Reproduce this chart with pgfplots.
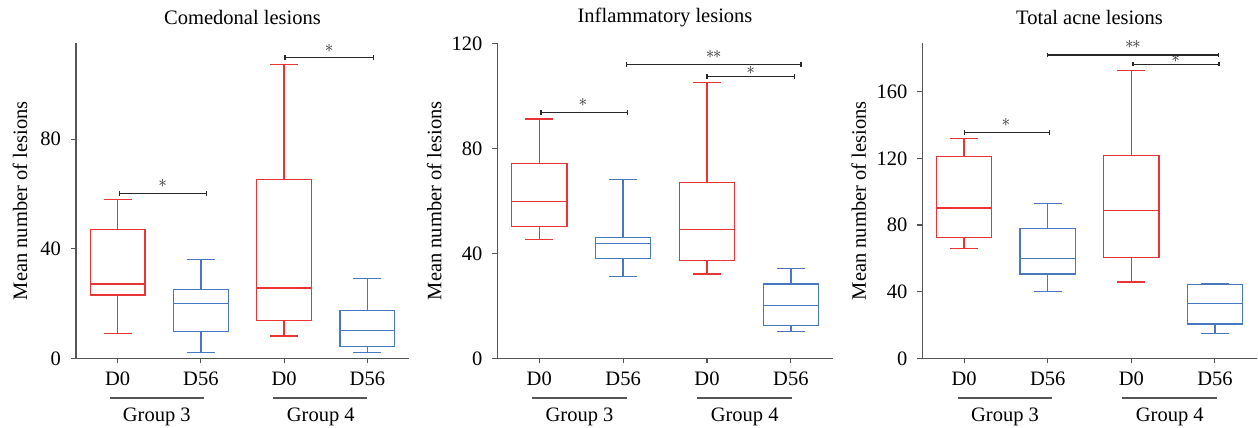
\documentclass[border=0pt]{standalone}
\usepackage{fontspec}
\setmainfont{Liberation Serif}
\usepackage{pgfplots}
\pgfplotsset{compat=1.18}
\usepgfplotslibrary{statistics}
\definecolor{bred}{RGB}{232,52,52}
\definecolor{bblue}{RGB}{72,120,195}
\definecolor{axgray}{RGB}{85,85,85}
\definecolor{sigc}{RGB}{40,40,40}
\tikzset{
  sigstar/.style={font=\fontsize{18}{18}\selectfont, text=sigc, inner sep=0pt},
  grp/.style={axgray, line width=1.7pt},
}
\pgfplotsset{
  panel/.style={
    scale only axis, height=315pt,
    axis x line*=bottom, axis y line*=left,
    axis line style={axgray, line width=1.3pt},
    xmin=0.5, xmax=4.5, ymin=0,
    xtick={1,2,3,4}, xticklabels={D0,D56,D0,D56},
    tick align=outside, major tick length=5pt,
    tick style={axgray, line width=1.1pt},
    /pgf/number format/assume math mode=true,
    font=\fontsize{20.5}{24}\selectfont,
    clip=false,
    boxplot/draw direction=y,
    title style={at={(axis description cs:0.5,1)}, anchor=center, yshift=20pt},
    xticklabel style={yshift=-2pt},
    yticklabel style={xshift=-3pt},
  },
  rbox/.style={draw=bred, line width=1.3pt, solid},
  bbox/.style={draw=bblue, line width=1.3pt, solid},
  sig/.style={sigc, line width=1.2pt, mark=|, mark size=2.2pt, mark options={solid, line width=1.2pt}},
}
\begin{document}
\fontsize{20.5}{24}\selectfont
\begin{tikzpicture}
\useasboundingbox (0pt,0pt) rectangle (1258pt,428pt);
% ---------------- Panel 1
\begin{axis}[panel, at={(76pt,69.7pt)}, anchor=south west, width=333pt,
  ymax=115, ytick={0,40,80}, title={Comedonal lesions},
  ylabel={Mean number of lesions},
  ylabel style={at={(axis description cs:-0.168,0.5)}, anchor=center}]
\addplot[rbox, boxplot prepared={draw position=1, lower whisker=9.1, lower quartile=23.1, median=27.1, upper quartile=47.05, upper whisker=58.1, box extend=0.66, whisker extend=0.335}] coordinates {};
\addplot[bbox, boxplot prepared={draw position=2, lower whisker=2.1, lower quartile=9.85, median=20.1, upper quartile=25.0, upper whisker=36.1, box extend=0.66, whisker extend=0.335}] coordinates {};
\addplot[rbox, boxplot prepared={draw position=3, lower whisker=8.1, lower quartile=13.7, median=25.65, upper quartile=65.3, upper whisker=107.2, box extend=0.66, whisker extend=0.335}] coordinates {};
\addplot[bbox, boxplot prepared={draw position=4, lower whisker=2.1, lower quartile=4.3, median=10.1, upper quartile=17.5, upper whisker=29.2, box extend=0.66, whisker extend=0.335}] coordinates {};
\addplot[sig] coordinates {(1.02,60.2) (2.07,60.2)};
\addplot[sig] coordinates {(3.01,109.8) (4.07,109.8)};
\node[sigstar] at (axis cs:1.54,63.8) {$\ast$};
\node[sigstar] at (axis cs:3.54,113.2) {$\ast$};
\draw[grp] ([yshift=-39.4pt]axis cs:0.91,0) -- ([yshift=-39.4pt]axis cs:2.04,0);
\draw[grp] ([yshift=-39.4pt]axis cs:2.87,0) -- ([yshift=-39.4pt]axis cs:4.0,0);
\node at ([yshift=-58.5pt]axis cs:1.47,0) {Group 3};
\node at ([yshift=-58.5pt]axis cs:3.44,0) {Group 4};
\end{axis}
% ---------------- Panel 2
\begin{axis}[panel, at={(497.3pt,69.7pt)}, anchor=south west, width=335.5pt,
  ymax=120, ytick={0,40,80,120}, title={Inflammatory lesions},
  ylabel={Mean number of lesions},
  ylabel style={at={(axis description cs:-0.188,0.5)}, anchor=center}]
\addplot[rbox, boxplot prepared={draw position=1, lower whisker=45.2, lower quartile=50.2, median=59.7, upper quartile=74.2, upper whisker=91.2, box extend=0.66, whisker extend=0.335}] coordinates {};
\addplot[bbox, boxplot prepared={draw position=2, lower whisker=31.1, lower quartile=38.1, median=43.7, upper quartile=46.1, upper whisker=68.1, box extend=0.66, whisker extend=0.335}] coordinates {};
\addplot[rbox, boxplot prepared={draw position=3, lower whisker=32.1, lower quartile=37.3, median=49.0, upper quartile=66.9, upper whisker=105.1, box extend=0.66, whisker extend=0.335}] coordinates {};
\addplot[bbox, boxplot prepared={draw position=4, lower whisker=10.2, lower quartile=12.4, median=20.1, upper quartile=28.3, upper whisker=34.2, box extend=0.66, whisker extend=0.335}] coordinates {};
\addplot[sig] coordinates {(1.02,93.7) (2.05,93.7)};
\addplot[sig] coordinates {(2.04,111.9) (4.12,111.9)};
\addplot[sig] coordinates {(3.0,107.4) (4.04,107.4)};
\node[sigstar] at (axis cs:1.52,97.5) {$\ast$};
\node[sigstar] at (axis cs:3.08,115.9) {$\ast\kern-1.5pt\ast$};
\node[sigstar] at (axis cs:3.52,109.8) {$\ast$};
\draw[grp] ([yshift=-39.4pt]axis cs:0.91,0) -- ([yshift=-39.4pt]axis cs:2.05,0);
\draw[grp] ([yshift=-39.4pt]axis cs:2.88,0) -- ([yshift=-39.4pt]axis cs:4.01,0);
\node at ([yshift=-58.5pt]axis cs:1.48,0) {Group 3};
\node at ([yshift=-58.5pt]axis cs:3.45,0) {Group 4};
\end{axis}
% ---------------- Panel 3
\begin{axis}[panel, at={(922.3pt,69.7pt)}, anchor=south west, width=334.4pt,
  ymax=189, ytick={0,40,80,120,160}, title={Total acne lesions},
  ylabel={Mean number of lesions},
  ylabel style={at={(axis description cs:-0.19,0.5)}, anchor=center}]
\addplot[rbox, boxplot prepared={draw position=1, lower whisker=65.9, lower quartile=72.5, median=90.2, upper quartile=121.2, upper whisker=131.7, box extend=0.66, whisker extend=0.335}] coordinates {};
\addplot[bbox, boxplot prepared={draw position=2, lower whisker=39.9, lower quartile=50.5, median=59.9, upper quartile=78.0, upper whisker=92.8, box extend=0.66, whisker extend=0.335}] coordinates {};
\addplot[rbox, boxplot prepared={draw position=3, lower whisker=45.7, lower quartile=60.3, median=88.8, upper quartile=121.8, upper whisker=172.7, box extend=0.66, whisker extend=0.335}] coordinates {};
\addplot[bbox, boxplot prepared={draw position=4, lower whisker=14.8, lower quartile=20.6, median=32.9, upper quartile=44.1, upper whisker=44.7, box extend=0.66, whisker extend=0.335}] coordinates {};
\addplot[sig] coordinates {(1.0,135.5) (2.02,135.5)};
\addplot[sig] coordinates {(2.0,182) (4.04,182)};
\addplot[sig] coordinates {(3.02,176.4) (4.05,176.4)};
\node[sigstar] at (axis cs:1.5,141.7) {$\ast$};
\node[sigstar] at (axis cs:3.02,188.4) {$\ast\kern-1.5pt\ast$};
\node[sigstar] at (axis cs:3.53,179.6) {$\ast$};
\draw[grp] ([yshift=-39.4pt]axis cs:0.93,0) -- ([yshift=-39.4pt]axis cs:2.05,0);
\draw[grp] ([yshift=-39.4pt]axis cs:2.89,0) -- ([yshift=-39.4pt]axis cs:4.02,0);
\node at ([yshift=-58.5pt]axis cs:1.49,0) {Group 3};
\node at ([yshift=-58.5pt]axis cs:3.46,0) {Group 4};
\end{axis}
\end{tikzpicture}
\end{document}
